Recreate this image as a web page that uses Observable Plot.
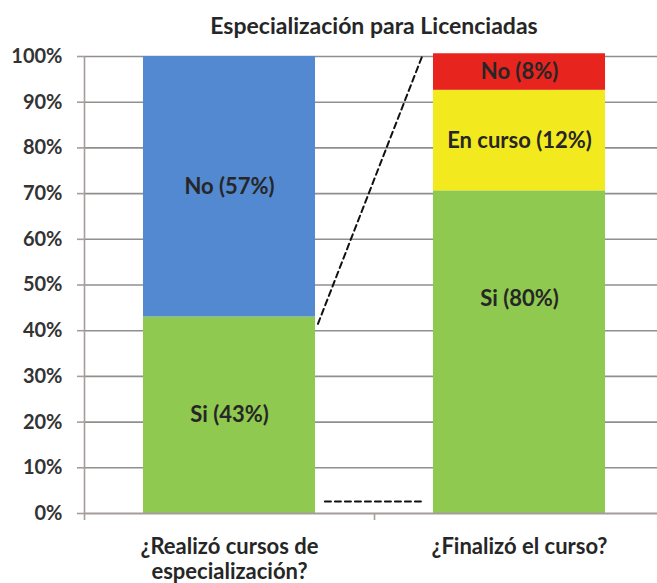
<!DOCTYPE html>
<html>
<head>
<meta charset="utf-8">
<script src="https://cdn.jsdelivr.net/npm/d3@7"></script>
<script src="https://cdn.jsdelivr.net/npm/@observablehq/plot@0.6"></script>
<style>
  body { margin: 0; background: white; font-family: Lato, "Open Sans", sans-serif; }
  #title { height: 44px; margin-left: 91px; text-align: center; font-weight: bold; font-size: 23px; color: #262626; line-height: 50px; }
</style>
</head>
<body>
<div id="title">Especialización para Licenciadas</div>
<div id="chart"></div>
<script>
// ---- data ----
const categories = ["¿Realizó cursos de\nespecialización?", "¿Finalizó el curso?"];
const q1Names = ["Si", "No"];
const q1Values = [43, 57];
const q1Labels = ["Si (43%)", "No (57%)"];
const q1LabelAt = [21.5, 71.5];
const q2Names = ["Si", "En curso", "No"];
const q2Values = [70.6, 22, 8];
const q2Labels = ["Si (80%)", "En curso (12%)", "No (8%)"];
const q2LabelAt = [47, 81.6, 96.6];
const yTicks = [0, 10, 20, 30, 40, 50, 60, 70, 80, 90, 100];
const connectorX = [0.305, 0.664];
const connectorY = [41.5, 100];
const baseX = [0.329, 0.664];
const baseY = [2.6, 2.6];

// ---- styles ----
const colors = { "0-Si": "#8fc94f", "0-No": "#5289d0", "1-Si": "#8fc94f", "1-En curso": "#f2ea1e", "1-No": "#e8241f" };
const half = 0.2966;

const segs = [];
[[q1Names, q1Values, q1Labels, q1LabelAt], [q2Names, q2Values, q2Labels, q2LabelAt]].forEach(([names, vals, labs, at], i) => {
  let c = 0;
  names.forEach((n, j) => {
    segs.push({ bar: i, key: i + "-" + n, y1: c, y2: c + vals[j], label: labs[j], ly: at[j] });
    c += vals[j];
  });
});
const catRows = categories.map((c, i) => ({ i, c }));
const grid = "#8f8f8f";
const axisCol = "#a69c9c";

const chart = Plot.plot({
  width: 657,
  height: 539,
  marginTop: 12,
  marginBottom: 70,
  marginLeft: 84,
  marginRight: 0,
  x: { type: "linear", domain: [-0.5, 1.5], range: [84, 664] },
  y: { domain: [0, 100], range: [469, 12] },
  style: { fontFamily: "Lato, 'Open Sans', sans-serif", background: "white", overflow: "hidden" },
  marks: [
    Plot.ruleY(yTicks.filter(d => d > 0), { stroke: grid, strokeWidth: 1.6 }),
    Plot.rect(segs, { x1: d => d.bar - half, x2: d => d.bar + half, y1: "y1", y2: "y2", fill: d => colors[d.key] }),
    Plot.text(segs, { x: "bar", y: "ly", text: "label", fill: "#262626", fontWeight: "bold", fontSize: 22 }),
    Plot.line(connectorX.map((x, k) => ({ x, y: connectorY[k] })), { x: "x", y: "y", stroke: "#111", strokeWidth: 2, strokeDasharray: "6,4" }),
    Plot.line(baseX.map((x, k) => ({ x, y: baseY[k] })), { x: "x", y: "y", stroke: "#111", strokeWidth: 2, strokeDasharray: "6,4" }),
    Plot.ruleX([-0.5], { y1: 0, y2: 100, stroke: axisCol, strokeWidth: 1.6 }),
    Plot.ruleY([0], { stroke: axisCol, strokeWidth: 1.8 }),
    Plot.axisY({ ticks: yTicks, tickFormat: d => d + "%", tickSize: 7, tickPadding: 15, stroke: axisCol, strokeWidth: 1.6, fill: "#333", fontWeight: "bold", fontSize: 20, label: null }),
    Plot.axisX({ ticks: [-0.5, 0.5], tickFormat: () => "", tickSize: 7, stroke: axisCol, strokeWidth: 1.6, label: null }),
    Plot.text(catRows, { x: "i", y: 0, text: "c", dy: 23, lineAnchor: "top", lineHeight: 1.14, fill: "#262626", fontWeight: "bold", fontSize: 22 })
  ]
});
document.getElementById("chart").appendChild(chart);
</script>
</body>
</html>
